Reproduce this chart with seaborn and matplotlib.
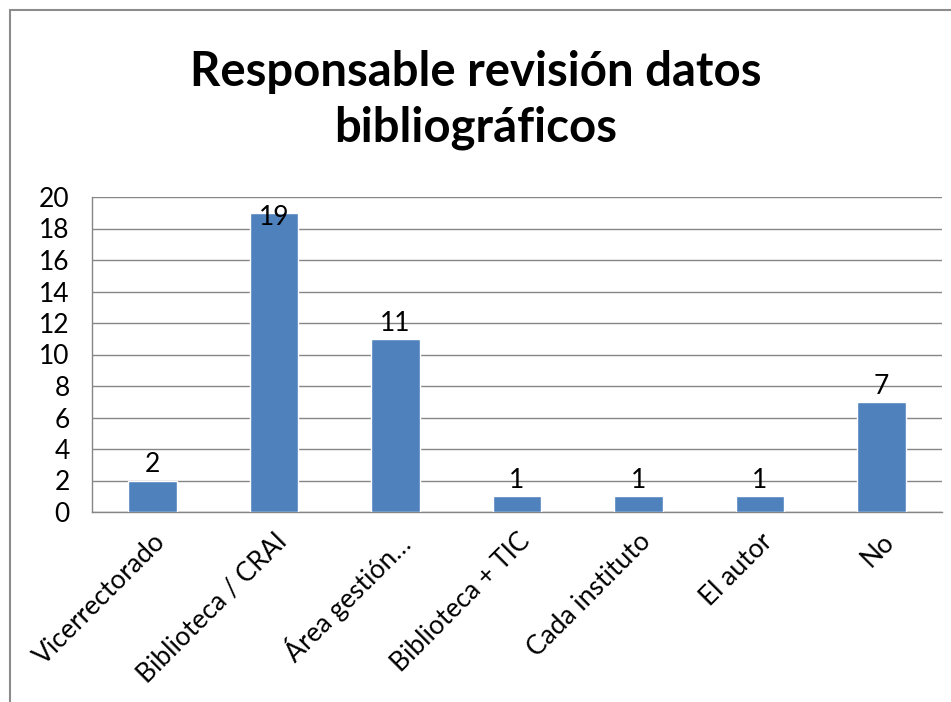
import matplotlib
matplotlib.use("Agg")
import matplotlib.pyplot as plt
import seaborn as sns
import pandas as pd
from matplotlib import font_manager
from matplotlib.patches import Rectangle
from matplotlib.ticker import FixedLocator

categories = ["Vicerrectorado", "Biblioteca / CRAI", "Área gestión…", "Biblioteca + TIC",
              "Cada instituto", "El autor", "No"]
values = [2, 19, 11, 1, 1, 1, 7]
title = "Responsable revisión datos\nbibliográficos"
y_ticks = [0, 2, 4, 6, 8, 10, 12, 14, 16, 18, 20]

sns.set_style("white")
names = {f.name for f in font_manager.fontManager.ttflist}
body_font = "Lato" if "Lato" in names else "DejaVu Sans"
plt.rcParams["font.family"] = [body_font, "DejaVu Sans"]
plt.rcParams["text.color"] = "black"
plt.rcParams["xtick.labelcolor"] = "black"
plt.rcParams["ytick.labelcolor"] = "black"

df = pd.DataFrame({"cat": categories, "val": values})

fig = plt.figure(figsize=(9.51, 7.02), dpi=100)
ax = fig.add_axes([92/951, 1-512/702, (942-92)/951, (512-197)/702])

sns.barplot(data=df, x="cat", y="val", color="#4F81BD", width=0.4, saturation=1, ax=ax, zorder=3)

grid_c = "#868686"
ax.set_ylim(0, 20)
ax.set_xlim(-0.5, len(categories) - 0.5)
ax.yaxis.set_major_locator(FixedLocator(y_ticks))
ax.yaxis.grid(True, color=grid_c, linewidth=1)
ax.set_axisbelow(True)
for s in ["top", "right"]:
    ax.spines[s].set_visible(False)
for s in ["left", "bottom"]:
    ax.spines[s].set_color(grid_c)
    ax.spines[s].set_linewidth(1)

ax.tick_params(axis="y", length=8, color=grid_c, width=1, labelsize=19, pad=8, labelcolor="black")
ax.set_yticklabels([str(t) for t in y_ticks], fontsize=19)
ax.tick_params(axis="x", which="major", length=0, pad=12, labelcolor="black")
ax.xaxis.set_minor_locator(FixedLocator([i - 0.5 for i in range(len(categories) + 1)]))
ax.tick_params(axis="x", which="minor", length=8, color=grid_c, width=1)
ax.set_xticks(range(len(categories)))
ax.set_xticklabels(categories, rotation=45, ha="right", rotation_mode="anchor", fontsize=19)
ax.set_xlabel("")
ax.set_ylabel("")

for i, v in enumerate(values):
    y = min(v + 0.2, 17.9)
    ax.text(i, y, str(v), ha="center", va="bottom", fontsize=19, color="black", zorder=5)

fig.text(0.5, 1 - 100/702, title, ha="center", va="center", fontsize=34, fontweight="bold",
         color="black", family=[body_font, "DejaVu Sans"], linespacing=1.3)

fig.patches.append(Rectangle((10/951, -0.1), 1.2, 1 - 10/702 + 0.1, transform=fig.transFigure,
                             fill=False, edgecolor="#8C8C8C", linewidth=1.5))

fig.savefig("out.png", dpi=100)
